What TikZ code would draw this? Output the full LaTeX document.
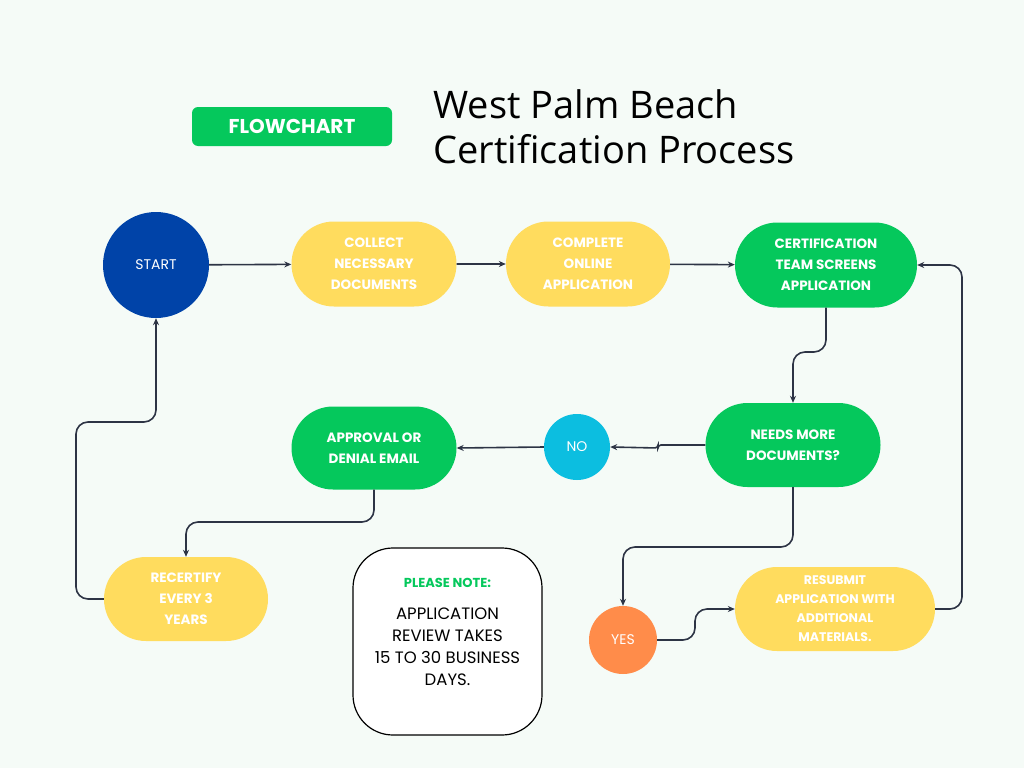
\documentclass[tikz,border=0pt]{standalone}
\usepackage{fontspec}
\setmainfont{Poppins}
\newfontfamily\titlefont{Open Sans}
\usetikzlibrary{arrows.meta,shapes.misc}
\definecolor{bg}{HTML}{F5FBF7}
\definecolor{gr}{HTML}{05C85C}
\definecolor{yl}{HTML}{FFDC5E}
\definecolor{bl}{HTML}{0043A8}
\definecolor{cy}{HTML}{0CBEE0}
\definecolor{og}{HTML}{FF8C4A}
\definecolor{ln}{HTML}{2D3445}
\begin{document}
\begin{tikzpicture}[x=1pt,y=-1pt,
  pill/.style={rounded rectangle,minimum height=85pt,align=center,text=white,font=\fontsize{13.5}{21}\selectfont\bfseries,inner sep=0pt},
  circ/.style={circle,text=white,font=\fontsize{14}{16}\selectfont,inner sep=0pt},
  conn/.style={draw=ln,line width=1.6pt,rounded corners=12pt,-{Stealth[length=7pt,width=6pt]}}]
\fill[bg] (0,0) rectangle (1024,768);
\useasboundingbox (0,0) rectangle (1024,768);
\node[fill=gr,rounded corners=6pt,minimum width=200pt,minimum height=39pt,text=white,font=\fontsize{20}{24}\selectfont\bfseries] (fc) at (292,126.5) {FLOWCHART};
\node[anchor=west,align=left,font=\titlefont\fontsize{38}{45}\selectfont] (title) at (430,127) {West Palm Beach\\Certification Process};
\node[circ,fill=bl,minimum size=106pt] (start) at (156,265) {START};
\node[pill,fill=yl,minimum width=165pt] (collect) at (374,264) {COLLECT\\NECESSARY\\DOCUMENTS};
\node[pill,fill=yl,minimum width=164pt] (complete) at (588,264) {COMPLETE\\ONLINE\\APPLICATION};
\node[pill,fill=gr,minimum width=182pt] (cert) at (826,265) {CERTIFICATION\\TEAM SCREENS\\APPLICATION};
\node[pill,fill=gr,minimum width=175pt,minimum height=84pt] (needs) at (793,445) {NEEDS MORE\\DOCUMENTS?};
\node[circ,fill=cy,minimum size=66pt] (no) at (577,447) {NO};
\node[pill,fill=gr,minimum width=165pt,minimum height=83pt] (appr) at (374,448) {APPROVAL OR\\DENIAL EMAIL};
\node[pill,fill=yl,minimum width=164pt,minimum height=84pt] (recert) at (186,599) {RECERTIFY\\EVERY 3\\YEARS};
\node[circ,fill=og,minimum size=68pt] (yes) at (623,640) {YES};
\node[pill,fill=yl,minimum width=200pt,minimum height=84pt,font=\fontsize{12.5}{19}\selectfont\bfseries] (resub) at (835,609) {RESUBMIT\\APPLICATION WITH\\ADDITIONAL\\MATERIALS.};
\node[draw=black,line width=1.2pt,fill=white,rounded corners=40pt,minimum width=189pt,minimum height=187pt] (note) at (447.5,641.5) {};
\node[font=\fontsize{13}{16}\selectfont\bfseries,text=gr] (pn) at (447.5,583) {PLEASE NOTE:};
\node[align=center,font=\fontsize{16.5}{22}\selectfont] (nt) at (447.5,647) {APPLICATION\\REVIEW TAKES\\15 TO 30 BUSINESS\\DAYS.};
\draw[conn] (start) -- (collect);
\draw[conn] (collect) -- (complete);
\draw[conn] (complete) -- (cert);
\draw[conn] (cert.south) -- (826,352) -- (793,352) -- (needs.north);
\draw[conn,rounded corners=3pt] (needs.west) -- (658,445) -- (658,448) -- (no.east);
\draw[conn] (no.west) -- (appr.east);
\draw[conn] (appr.south) -- (374,522) -- (186,522) -- (recert.north);
\draw[conn] (recert.west) -- (76,599) -- (76,422) -- (156,422) -- (start.south);
\draw[conn] (needs.south) -- (793,547) -- (623,547) -- (yes.north);
\draw[conn] (yes.east) -- (695,640) -- (695,609) -- (resub.west);
\draw[conn] (resub.east) -- (962,609) -- (962,265) -- (cert.east);
\end{tikzpicture}
\end{document}
